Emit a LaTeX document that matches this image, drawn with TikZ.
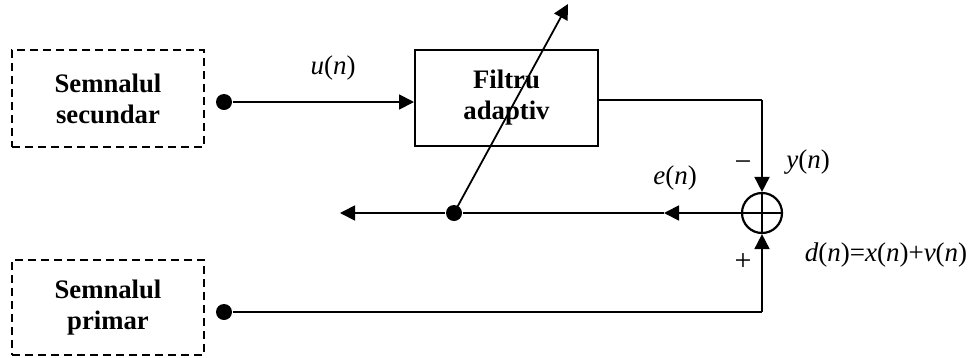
\documentclass[tikz,border=0pt]{standalone}
\usepackage{fontspec}
\setmainfont{Liberation Serif}
\usetikzlibrary{arrows.meta}
\begin{document}
\begin{tikzpicture}[x=1pt,y=-1pt,
  line width=1.8pt,
  arr/.style={-{Triangle[length=15pt,width=15pt]}},
  srcbox/.style={draw,dashed,dash pattern=on 8pt off 5pt,line width=2pt,minimum width=192pt,align=center,inner sep=0pt,font=\fontsize{26.7}{31}\selectfont\bfseries},
  filtbox/.style={draw,line width=2pt,minimum width=183pt,minimum height=96pt,align=center,inner sep=0pt,font=\fontsize{26.7}{31}\selectfont\bfseries},
  jdot/.style={circle,fill,inner sep=0pt,minimum size=16pt},
  lbl/.style={font=\fontsize{27}{31}\selectfont,inner sep=0pt},
  sgn/.style={font=\fontsize{30}{34}\selectfont,inner sep=0pt}]
\useasboundingbox (0,0) rectangle (969,357);
\node[srcbox,minimum height=97pt] (sec) at (108,98.5) {Semnalul\\secundar};
\node[srcbox,minimum height=95pt] (prim) at (108,307.5) {Semnalul\\primar};
\node[filtbox] (filt) at (506.5,98) {Filtru\\adaptiv};
\node[circle,draw,line width=2.2pt,minimum size=40pt,inner sep=0pt] (sum) at (762,213) {};
\node[jdot] (d1) at (224,102) {};
\node[jdot] (d2) at (224,312) {};
\node[jdot] (d3) at (454,213) {};
\coordinate (c1) at (762,100);
\coordinate (c2) at (762,312);
\coordinate (fa) at (664,213);
\coordinate (fend) at (340,213);
\coordinate (tip) at (568,4);
\draw[arr] (d1) -- (d1 -| filt.west);
\draw (filt.east |- c1) -- (c1);
\draw[arr] (c1) -- (sum.north);
\draw (d2) -- (c2);
\draw[arr] (c2) -- (sum.south);
\draw[arr] (sum.west) -- (fa);
\draw (fa) -- (d3);
\draw[arr] (d3) -- (fend);
\draw[arr] (d3.center) -- (tip);
\draw[line width=2.2pt] (sum.north) -- (sum.south) (sum.west) -- (sum.east);
\node[lbl] (lu) at (333,68) {\textit{u}(\textit{n})};
\node[lbl] (le) at (675,178) {\textit{e}(\textit{n})};
\node[lbl] (ly) at (808,162) {\textit{y}(\textit{n})};
\node[sgn] (lm) at (743,166) {\textminus};
\node[sgn] (lp) at (743,262) {+};
\node[lbl] (ld) at (886,255) {\textit{d}(\textit{n})=\textit{x}(\textit{n})+\textit{v}(\textit{n})};
\end{tikzpicture}
\end{document}
